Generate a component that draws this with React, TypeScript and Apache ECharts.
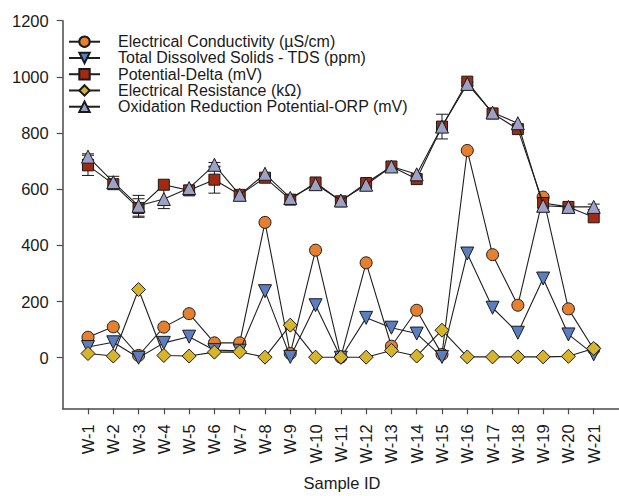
import React, { useEffect, useRef } from "react";
import * as echarts from "echarts";

const samples = ["W-1","W-2","W-3","W-4","W-5","W-6","W-7","W-8","W-9","W-10","W-11","W-12","W-13","W-14","W-15","W-16","W-17","W-18","W-19","W-20","W-21"];
const ecValues = [73, 110, 8, 109, 157, 53, 53, 482, 15, 383, 2, 338, 41, 169, 12, 738, 367, 187, 572, 174, 30];
const tdsValues = [38, 55, 0, 53, 75, 27, 25, 237, 3, 187, 0, 142, 107, 86, 3, 371, 178, 89, 282, 83, 12];
const pdValues = [685, 618, 533, 616, 596, 634, 580, 641, 563, 624, 557, 622, 681, 636, 823, 983, 870, 814, 551, 537, 500];
const erValues = [15, 6, 243, 8, 6, 20, 21, 2, 116, 2, 2, 2, 26, 6, 98, 3, 3, 3, 3, 5, 33];
const orpValues = [716, 625, 541, 565, 604, 687, 580, 655, 569, 618, 560, 616, 681, 653, 823, 975, 873, 835, 541, 537, 537];
const pdErr = [36, 0, 33, 0, 0, 48, 0, 0, 0, 0, 0, 0, 0, 0, 44, 0, 0, 0, 0, 0, 0];
const orpErr = [10, 21, 37, 34, 0, 8, 0, 0, 0, 0, 0, 0, 0, 0, 0, 5, 0, 0, 0, 0, 10];
const yTicks = [0, 200, 400, 600, 800, 1000, 1200];

const FONT = "'Liberation Sans', Arial, sans-serif";

export default function App() {
  const ref = useRef<HTMLDivElement>(null);
  useEffect(() => {
    if (!ref.current) return;
    const chart = echarts.init(ref.current, null, { renderer: "svg" });
    const xIdx = samples.map((_, i) => i + 1);
    const pts = (vals: number[]) => vals.map((v, i) => [xIdx[i], v]);
    const errPts = (vals: number[], errs: number[]) => vals.map((v, i) => [xIdx[i], v, errs[i]]);
    const lineSeries = (name: string, vals: number[], symbol: string, size: number, color: string, rotate = 0, z = 3) => ({
      name,
      type: "line",
      data: pts(vals),
      symbol,
      symbolSize: size,
      symbolRotate: rotate,
      showSymbol: true,
      z,
      lineStyle: { color: "#1f1f1f", width: 1.1 },
      itemStyle: { color, borderColor: "#1a1a1a", borderWidth: 1 },
      emphasis: { disabled: true },
    });
    const errSeries = (vals: number[], errs: number[]) => ({
      type: "custom",
      data: errPts(vals, errs),
      encode: { x: 0, y: 1 },
      z: 2,
      silent: true,
      renderItem: (params: any, api: any) => {
        const x = api.value(0);
        const y = api.value(1);
        const e = api.value(2);
        if (!e) return null;
        const t = api.coord([x, y + e]);
        const b = api.coord([x, y - e]);
        const hw = 6;
        const st = { stroke: "#1a1a1a", lineWidth: 1 };
        return {
          type: "group",
          children: [
            { type: "line", shape: { x1: t[0], y1: t[1], x2: b[0], y2: b[1] }, style: st },
            { type: "line", shape: { x1: t[0] - hw, y1: t[1], x2: t[0] + hw, y2: t[1] }, style: st },
            { type: "line", shape: { x1: b[0] - hw, y1: b[1], x2: b[0] + hw, y2: b[1] }, style: st },
          ],
        };
      },
    });
    chart.setOption({
      animation: false,
      backgroundColor: "#ffffff",
      textStyle: { fontFamily: FONT },
      grid: { left: 62.7, top: 20.7, width: 568.3, height: 387.6, containLabel: false },
      legend: {
        orient: "vertical",
        left: 68,
        top: 33.6,
        padding: 0,
        itemWidth: 31,
        itemHeight: 13,
        itemGap: 0,
        selectedMode: false,
        textStyle: { fontFamily: FONT, fontSize: 16, color: "#1a1a1a", lineHeight: 16.25, padding: [0, 0, 0, 13] },
        data: [
          "Electrical Conductivity (µS/cm)",
          "Total Dissolved Solids - TDS (ppm)",
          "Potential-Delta (mV)",
          "Electrical Resistance (kΩ)",
          "Oxidation Reduction Potential-ORP (mV)",
        ],
      },
      xAxis: {
        type: "value",
        min: 0,
        max: 22,
        interval: 1,
        splitLine: { show: false },
        axisLine: { show: true, onZero: false, lineStyle: { color: "#4a4a4a", width: 1.5 } },
        axisTick: { show: true, length: 6, lineStyle: { color: "#4a4a4a", width: 1.2 }, customValues: xIdx },
        axisLabel: {
          customValues: xIdx,
          rotate: 90,
          margin: 16,
          fontSize: 16.5,
          color: "#1a1a1a",
          fontFamily: FONT,
          formatter: (v: number) => samples[Math.round(v) - 1] ?? "",
        },
      },
      yAxis: {
        type: "value",
        min: -180,
        max: 1200,
        splitLine: { show: false },
        axisLine: { show: true, onZero: false, lineStyle: { color: "#4a4a4a", width: 1.5 } },
        axisTick: { show: true, length: 6, lineStyle: { color: "#4a4a4a", width: 1.2 }, customValues: yTicks },
        axisLabel: {
          customValues: yTicks,
          margin: 14,
          fontSize: 16.5,
          color: "#1a1a1a",
          fontFamily: FONT,
          formatter: (v: number) => String(v),
        },
      },
      graphic: [
        {
          type: "text",
          x: 342,
          y: 483,
          style: { text: "Sample ID", fontSize: 16.5, fontFamily: FONT, fill: "#1a1a1a", align: "center", verticalAlign: "middle" },
        },
      ],
      series: [
        errSeries(pdValues, pdErr),
        errSeries(orpValues, orpErr),
        lineSeries("Electrical Conductivity (µS/cm)", ecValues, "circle", 12, "#E4802F", 0, 3),
        lineSeries("Total Dissolved Solids - TDS (ppm)", tdsValues, "triangle", 13, "#5B7EC0", 180, 4),
        lineSeries("Potential-Delta (mV)", pdValues, "rect", 11, "#A32A12", 0, 5),
        lineSeries("Electrical Resistance (kΩ)", erValues, "diamond", 14, "#D6B42C", 0, 6),
        lineSeries("Oxidation Reduction Potential-ORP (mV)", orpValues, "triangle", 13, "#9CA2C6", 0, 7),
      ],
    });
    return () => chart.dispose();
  }, []);
  return <div ref={ref} style={{ position: "absolute", left: 0, top: 0, width: 619, height: 496 }} />;
}
